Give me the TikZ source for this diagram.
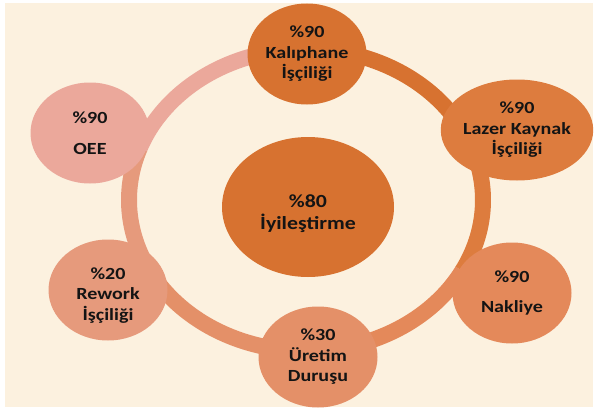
\documentclass[tikz,border=0pt]{standalone}
\usepackage{fontspec}
\usepackage{graphicx}
\setmainfont{Carlito}
\usetikzlibrary{shapes.geometric}
\definecolor{cream}{HTML}{FCF1DF}
\definecolor{ckal}{HTML}{D77230}
\definecolor{claz}{HTML}{DD7C3E}
\definecolor{cnak}{HTML}{E4895A}
\definecolor{cure}{HTML}{E49068}
\definecolor{crew}{HTML}{E69A7C}
\definecolor{coee}{HTML}{EBA89B}
\definecolor{txtc}{HTML}{141414}
\newcommand{\wl}[1]{\scalebox{1.18}[1]{#1}}
\tikzset{
  bub/.style={ellipse, minimum width=119pt, minimum height=101pt, inner sep=0pt,
    align=center, font=\fontsize{17}{20.5}\selectfont\bfseries, text=txtc},
  hub/.style={bub, minimum width=172pt, minimum height=140pt,
    font=\fontsize{18.5}{21.5}\selectfont\bfseries},
  ringseg/.style={line width=16pt}
}
\begin{document}
\begin{tikzpicture}[x=1pt,y=1pt]
\useasboundingbox (0,0) rectangle (597,408);
\fill[white] (0,0) rectangle (597,408);
\fill[cream] (5,1) rectangle (593,405);
\coordinate (ring) at (306,208);
% ring segments
\draw[ringseg, draw=ckal] ([shift={(90:177pt and 151pt)}]ring) arc[start angle=90, end angle=21, x radius=177pt, y radius=151pt];
\draw[ringseg, draw=claz] ([shift={(21:177pt and 151pt)}]ring) arc[start angle=21, end angle=-28, x radius=177pt, y radius=151pt];
\draw[ringseg, draw=cnak] ([shift={(-28:177pt and 151pt)}]ring) arc[start angle=-28, end angle=-86, x radius=177pt, y radius=151pt];
\draw[ringseg, draw=cure] ([shift={(-86:177pt and 151pt)}]ring) arc[start angle=-86, end angle=-152, x radius=177pt, y radius=151pt];
\draw[ringseg, draw=crew] ([shift={(208:177pt and 151pt)}]ring) arc[start angle=208, end angle=160, x radius=177pt, y radius=151pt];
\draw[ringseg, draw=coee] ([shift={(160:177pt and 151pt)}]ring) arc[start angle=160, end angle=90, x radius=177pt, y radius=151pt];
% nodes
\node[hub, fill=ckal] (hubn) at (308,201) {\rule{0pt}{26pt}\wl{\%80}\\\wl{İyileştirme}};
\node[bub, fill=ckal] (kal) at (307,354) {\wl{\%90}\\\wl{Kalıphane}\\\wl{İşçiliği}};
\node[bub, fill=claz] (laz) at (517,278) {\wl{\%90}\\\wl{Lazer Kaynak}\\\wl{İşçiliği}};
\node[bub, fill=cnak] (nak) at (512,115) {\wl{\%90}\\[10pt]\wl{Nakliye}};
\node[bub, fill=cure] (ure) at (318,51) {\wl{\%30}\\\wl{Üretim}\\\wl{Duruşu}};
\node[bub, fill=crew] (rew) at (108,118) {\rule{0pt}{22pt}\wl{\%20}\\\wl{Rework}\\\wl{İşçiliği}};
\node[bub, fill=coee] (oee) at (90,275) {\wl{\%90}\\[10pt]\wl{OEE}};
\end{tikzpicture}
\end{document}
